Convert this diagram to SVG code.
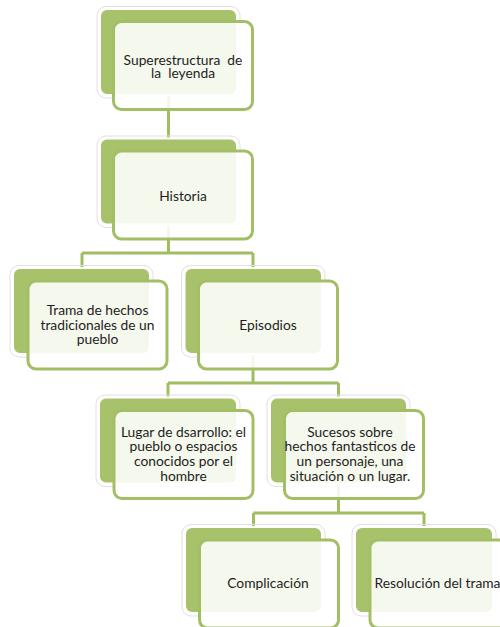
<svg xmlns="http://www.w3.org/2000/svg" width="500" height="627" viewBox="0 0 500 627">
<style>
.sh{fill:none;stroke:#e0e0e0;stroke-width:1}
.bk{fill:#A8C26C;stroke:#ffffff;stroke-width:2}
.fr{fill:#ffffff;fill-opacity:0.88;stroke:#A3BF66;stroke-width:3}
.cn{fill:none;stroke:#A0BD62;stroke-width:3}
text{font-family:Lato,"Open Sans","Liberation Sans",sans-serif;font-size:13.8px;fill:#1e1e1e;text-anchor:middle}
</style>
<rect width="500" height="627" fill="#ffffff"/>
<g id="connectors">
<path class="cn" d="M168.5 95V140"/>
<path class="cn" d="M168.5 224V253M82 253H253M82 253V269M253 253V269"/>
<path class="cn" d="M253 354V383M168 383H338.5M168 383V399M338.5 383V399"/>
<path class="cn" d="M338.5 483V513M253.5 513H424M253.5 513V528M424 513V528"/>
</g>
<g id="n1">
<rect class="sh" x="97" y="6.5" width="143" height="91.5" rx="9"/>
<rect class="bk" x="100" y="9" width="137" height="86" rx="7"/>
<rect class="fr" x="113.5" y="21.5" width="139" height="88" rx="8"/>
<text x="183" y="65" xml:space="preserve">Superestructura  de</text>
<text x="183" y="77.5" xml:space="preserve">la  leyenda</text>
</g>
<g id="n2">
<rect class="sh" x="97" y="136" width="143" height="91.5" rx="9"/>
<rect class="bk" x="100" y="138.5" width="137" height="86" rx="7"/>
<rect class="fr" x="113.5" y="151" width="139" height="88" rx="8"/>
<text x="183" y="201">Historia</text>
</g>
<g id="n3">
<rect class="sh" x="10" y="265.5" width="143" height="91.5" rx="9"/>
<rect class="bk" x="13" y="268" width="137" height="86" rx="7"/>
<rect class="fr" x="28" y="281" width="139" height="88" rx="8"/>
<text x="97.5" y="315">Trama de hechos</text>
<text x="97.5" y="329.5">tradicionales de un</text>
<text x="97.5" y="344">pueblo</text>
</g>
<g id="n4">
<rect class="sh" x="181.5" y="265.5" width="143.5" height="91.5" rx="9"/>
<rect class="bk" x="184.5" y="268" width="137.5" height="86" rx="7"/>
<rect class="fr" x="198.5" y="281" width="139" height="88" rx="8"/>
<text x="268" y="330">Episodios</text>
</g>
<g id="n5">
<rect class="sh" x="96" y="395" width="144" height="91.5" rx="9"/>
<rect class="bk" x="99" y="397.5" width="138" height="86" rx="7"/>
<rect class="fr" x="114" y="410.5" width="139" height="88" rx="8"/>
<text x="183.5" y="436.7">Lugar de dsarrollo: el</text>
<text x="183.5" y="451.3">pueblo o espacios</text>
<text x="183.5" y="466">conocidos por el</text>
<text x="183.5" y="480.7">hombre</text>
</g>
<g id="n6">
<rect class="sh" x="267" y="395" width="143" height="91.5" rx="9"/>
<rect class="bk" x="270" y="397.5" width="137" height="86" rx="7"/>
<rect class="fr" x="284.5" y="410.5" width="139" height="88" rx="8"/>
<text x="350" y="436.7">Sucesos sobre</text>
<text x="350" y="451.3">hechos fantasticos de</text>
<text x="350" y="466">un personaje, una</text>
<text x="350" y="480.7">situación o un lugar.</text>
</g>
<g id="n7">
<rect class="sh" x="182" y="524.5" width="143" height="91.5" rx="9"/>
<rect class="bk" x="185" y="527" width="137" height="86" rx="7"/>
<rect class="fr" x="199.5" y="540" width="139" height="88" rx="8"/>
<text x="268" y="588">Complicación</text>
</g>
<g id="n8">
<rect class="sh" x="352" y="524.5" width="144" height="91.5" rx="9"/>
<rect class="bk" x="355" y="527" width="138" height="86" rx="7"/>
<rect class="fr" x="370" y="540" width="139" height="88" rx="8"/>
<text x="437.5" y="588">Resolución del trama</text>
</g>
</svg>
